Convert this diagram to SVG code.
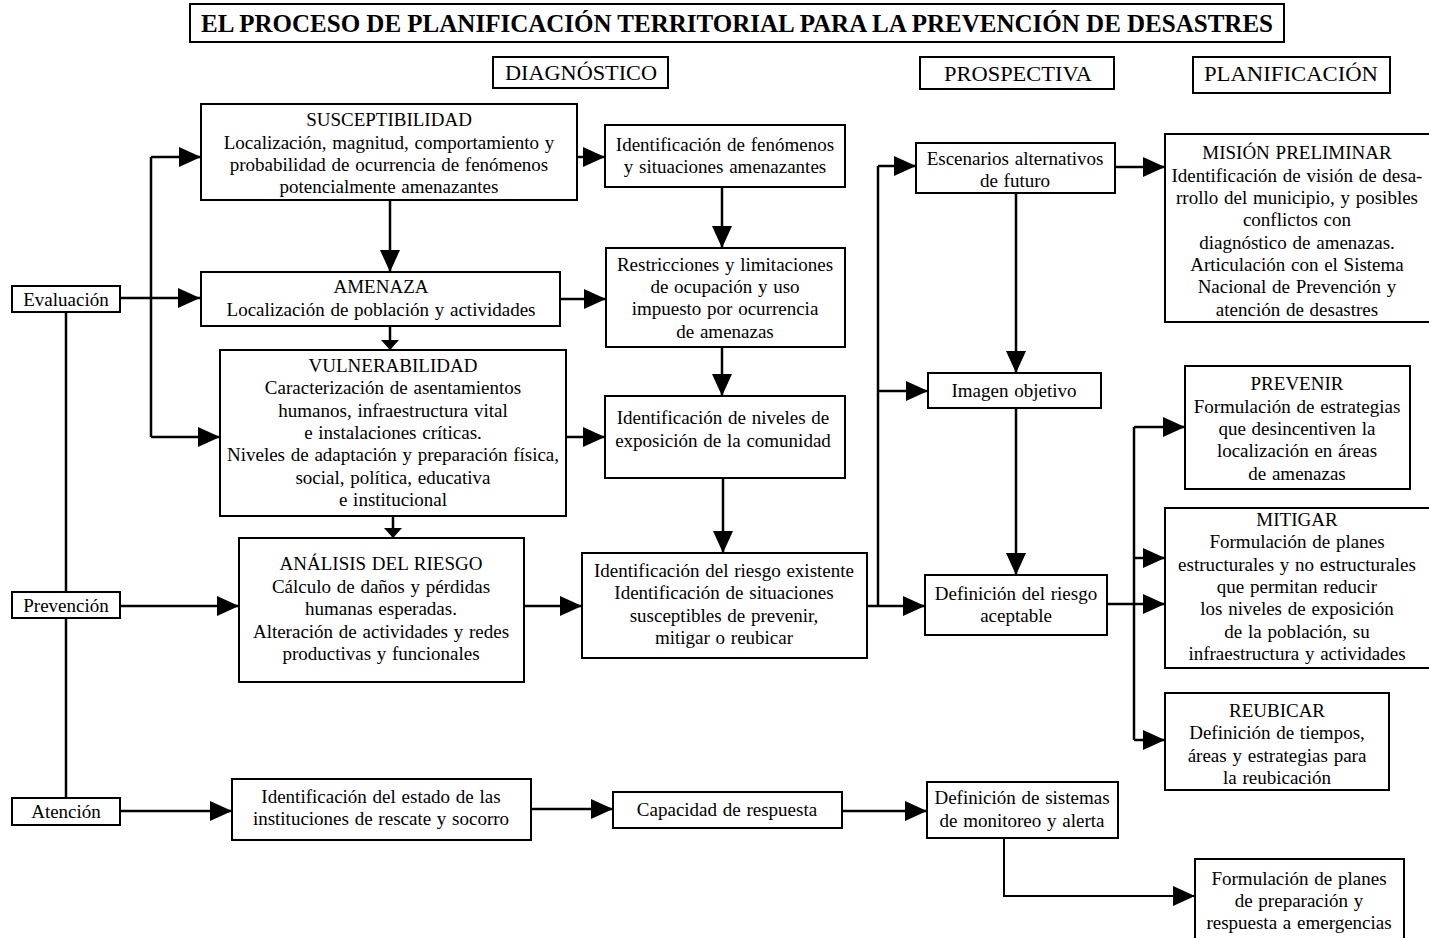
<svg xmlns="http://www.w3.org/2000/svg" width="1429" height="938" viewBox="0 0 1429 938">
<style>
.b{fill:#fff;stroke:#000;stroke-width:2}
.t{font-family:"Liberation Serif","Times New Roman",serif;font-size:19px;word-spacing:1px;text-anchor:middle;fill:#000}
.h{font-family:"Liberation Serif","Times New Roman",serif;font-size:21px;text-anchor:middle;fill:#000}
.c{fill:none;stroke:#000;stroke-width:2.5}
</style>
<defs>
<marker id="a" markerUnits="userSpaceOnUse" markerWidth="22" markerHeight="22" refX="22" refY="11" orient="auto" viewBox="0 0 22 22"><path d="M0,1 L22,11 L0,21 z" fill="#000"/></marker>
<marker id="s" markerUnits="userSpaceOnUse" markerWidth="10" markerHeight="20" refX="10" refY="10" orient="auto" viewBox="0 0 10 20"><path d="M0,1 L10,10 L0,19 z" fill="#000"/></marker>
</defs>
<rect width="1429" height="938" fill="#fff"/>

<g id="connectors">
<path class="c" d="M66,312 V798"/>
<path class="c" d="M120,298 H200" marker-end="url(#a)"/>
<path class="c" d="M151,157 V437"/>
<path class="c" d="M151,157 H201" marker-end="url(#a)"/>
<path class="c" d="M151,437 H220" marker-end="url(#a)"/>
<path class="c" d="M390,200 V272" marker-end="url(#a)"/>
<path class="c" d="M390,326 V350" marker-end="url(#s)"/>
<path class="c" d="M393,516 V538" marker-end="url(#s)"/>
<path class="c" d="M120,606 H239" marker-end="url(#a)"/>
<path class="c" d="M524,606 H582" marker-end="url(#a)"/>
<path class="c" d="M577,157 H605" marker-end="url(#a)"/>
<path class="c" d="M560,299 H606" marker-end="url(#a)"/>
<path class="c" d="M566,437 H605" marker-end="url(#a)"/>
<path class="c" d="M722,187 V248" marker-end="url(#a)"/>
<path class="c" d="M722,347 V396" marker-end="url(#a)"/>
<path class="c" d="M723,478 V553" marker-end="url(#a)"/>
<path class="c" d="M867,606 H925" marker-end="url(#a)"/>
<path class="c" d="M878,166 V606"/>
<path class="c" d="M878,166 H916" marker-end="url(#a)"/>
<path class="c" d="M878,391 H928" marker-end="url(#a)"/>
<path class="c" d="M1115,167 H1165" marker-end="url(#a)"/>
<path class="c" d="M1016,193 V373" marker-end="url(#a)"/>
<path class="c" d="M1016,408 V575" marker-end="url(#a)"/>
<path class="c" d="M1107,604 H1165" marker-end="url(#a)"/>
<path class="c" d="M1134,427 V740"/>
<path class="c" d="M1134,427 H1185" marker-end="url(#a)"/>
<path class="c" d="M1134,558 H1165" marker-end="url(#a)"/>
<path class="c" d="M1134,740 H1165" marker-end="url(#a)"/>
<path class="c" d="M120,811 H232" marker-end="url(#a)"/>
<path class="c" d="M531,809 H613" marker-end="url(#a)"/>
<path class="c" d="M842,811 H927" marker-end="url(#a)"/>
<path class="c" d="M1004,838 V896 H1195" marker-end="url(#a)" style="stroke-width:2"/>
</g>

<g id="title">
<rect class="b" x="190" y="4" width="1094" height="38"/>
<text x="737" y="32" textLength="1072" lengthAdjust="spacingAndGlyphs" style="font-family:'Liberation Serif','Times New Roman',serif;font-size:26px;font-weight:bold;text-anchor:middle">EL PROCESO DE PLANIFICACIÓN TERRITORIAL PARA LA PREVENCIÓN DE DESASTRES</text>
</g>
<g id="h-diag"><rect class="b" x="493" y="57" width="175" height="31"/><text class="h" x="581" y="80" textLength="152" lengthAdjust="spacingAndGlyphs">DIAGNÓSTICO</text></g>
<g id="h-prosp"><rect class="b" x="920" y="57" width="194" height="32"/><text class="h" x="1018" y="81" textLength="148" lengthAdjust="spacingAndGlyphs">PROSPECTIVA</text></g>
<g id="h-plan"><rect class="b" x="1193" y="57" width="197" height="36"/><text class="h" x="1291" y="81" textLength="174" lengthAdjust="spacingAndGlyphs">PLANIFICACIÓN</text></g>

<g id="evaluacion"><rect class="b" x="12" y="286" width="108" height="26"/><text class="t" x="66" y="306">Evaluación</text></g>
<g id="prevencion"><rect class="b" x="12" y="592" width="108" height="26"/><text class="t" x="66" y="612">Prevención</text></g>
<g id="atencion"><rect class="b" x="12" y="798" width="108" height="27"/><text class="t" x="66" y="818">Atención</text></g>

<g id="susceptibilidad"><rect class="b" x="201" y="104" width="376" height="96"/>
<text class="t" x="389" y="126">SUSCEPTIBILIDAD</text>
<text class="t" x="389" y="149">Localización, magnitud, comportamiento y</text>
<text class="t" x="389" y="171">probabilidad de ocurrencia de fenómenos</text>
<text class="t" x="389" y="193">potencialmente amenazantes</text></g>

<g id="amenaza"><rect class="b" x="201" y="272" width="359" height="54"/>
<text class="t" x="381" y="293">AMENAZA</text>
<text class="t" x="381" y="316">Localización de población y actividades</text></g>

<g id="vulnerabilidad"><rect class="b" x="220" y="350" width="346" height="166"/>
<text class="t" x="393" y="372">VULNERABILIDAD</text>
<text class="t" x="393" y="394">Caracterización de asentamientos</text>
<text class="t" x="393" y="417">humanos, infraestructura vital</text>
<text class="t" x="393" y="439">e instalaciones críticas.</text>
<text class="t" x="393" y="461">Niveles de adaptación y preparación física,</text>
<text class="t" x="393" y="484">social, política, educativa</text>
<text class="t" x="393" y="506">e institucional</text></g>

<g id="analisis"><rect class="b" x="239" y="538" width="285" height="144"/>
<text class="t" x="381" y="570">ANÁLISIS DEL RIESGO</text>
<text class="t" x="381" y="593">Cálculo de daños y pérdidas</text>
<text class="t" x="381" y="615">humanas esperadas.</text>
<text class="t" x="381" y="638">Alteración de actividades y redes</text>
<text class="t" x="381" y="660">productivas y funcionales</text></g>

<g id="fenomenos"><rect class="b" x="605" y="125" width="240" height="62"/>
<text class="t" x="725" y="151">Identificación de fenómenos</text>
<text class="t" x="725" y="173">y situaciones amenazantes</text></g>

<g id="restricciones"><rect class="b" x="606" y="248" width="239" height="99"/>
<text class="t" x="725" y="271">Restricciones y limitaciones</text>
<text class="t" x="725" y="293">de ocupación y uso</text>
<text class="t" x="725" y="315">impuesto por ocurrencia</text>
<text class="t" x="725" y="338">de amenazas</text></g>

<g id="niveles"><rect class="b" x="605" y="396" width="240" height="82"/>
<text class="t" x="723" y="424">Identificación de niveles de</text>
<text class="t" x="723" y="447">exposición de la comunidad</text></g>

<g id="riesgo-existente"><rect class="b" x="582" y="553" width="285" height="105"/>
<text class="t" x="724" y="577">Identificación del riesgo existente</text>
<text class="t" x="724" y="599">Identificación de situaciones</text>
<text class="t" x="724" y="622">susceptibles de prevenir,</text>
<text class="t" x="724" y="644">mitigar o reubicar</text></g>

<g id="escenarios"><rect class="b" x="916" y="143" width="199" height="50"/>
<text class="t" x="1015" y="165">Escenarios alternativos</text>
<text class="t" x="1015" y="187">de futuro</text></g>

<g id="imagen"><rect class="b" x="928" y="373" width="173" height="35"/>
<text class="t" x="1014" y="397">Imagen objetivo</text></g>

<g id="riesgo-aceptable"><rect class="b" x="925" y="575" width="182" height="60"/>
<text class="t" x="1016" y="600">Definición del riesgo</text>
<text class="t" x="1016" y="622">aceptable</text></g>

<g id="mision"><rect class="b" x="1165" y="134" width="270" height="188"/>
<text class="t" x="1297" y="159">MISIÓN PRELIMINAR</text>
<text class="t" x="1297" y="182">Identificación de visión de desa-</text>
<text class="t" x="1297" y="204">rrollo del municipio, y posibles</text>
<text class="t" x="1297" y="226">conflictos con</text>
<text class="t" x="1297" y="249">diagnóstico de amenazas.</text>
<text class="t" x="1297" y="271">Articulación con el Sistema</text>
<text class="t" x="1297" y="293">Nacional de Prevención y</text>
<text class="t" x="1297" y="316">atención de desastres</text></g>

<g id="prevenir"><rect class="b" x="1185" y="366" width="225" height="123"/>
<text class="t" x="1297" y="390">PREVENIR</text>
<text class="t" x="1297" y="413">Formulación de estrategias</text>
<text class="t" x="1297" y="435">que desincentiven la</text>
<text class="t" x="1297" y="457">localización en áreas</text>
<text class="t" x="1297" y="480">de amenazas</text></g>

<g id="mitigar"><rect class="b" x="1165" y="508" width="270" height="160"/>
<text class="t" x="1297" y="526">MITIGAR</text>
<text class="t" x="1297" y="548">Formulación de planes</text>
<text class="t" x="1297" y="571">estructurales y no estructurales</text>
<text class="t" x="1297" y="593">que permitan reducir</text>
<text class="t" x="1297" y="615">los niveles de exposición</text>
<text class="t" x="1297" y="638">de la población, su</text>
<text class="t" x="1297" y="660">infraestructura y actividades</text></g>

<g id="reubicar"><rect class="b" x="1165" y="693" width="224" height="97"/>
<text class="t" x="1277" y="717">REUBICAR</text>
<text class="t" x="1277" y="739">Definición de tiempos,</text>
<text class="t" x="1277" y="762">áreas y estrategias para</text>
<text class="t" x="1277" y="784">la reubicación</text></g>

<g id="instituciones"><rect class="b" x="232" y="779" width="299" height="61"/>
<text class="t" x="381" y="803">Identificación del estado de las</text>
<text class="t" x="381" y="825">instituciones de rescate y socorro</text></g>

<g id="capacidad"><rect class="b" x="613" y="792" width="229" height="36"/>
<text class="t" x="727" y="816">Capacidad de respuesta</text></g>

<g id="monitoreo"><rect class="b" x="927" y="782" width="191" height="56"/>
<text class="t" x="1022" y="804">Definición de sistemas</text>
<text class="t" x="1022" y="827">de monitoreo y alerta</text></g>

<g id="emergencias"><rect class="b" x="1195" y="859" width="209" height="90"/>
<text class="t" x="1299" y="885">Formulación de planes</text>
<text class="t" x="1299" y="907">de preparación y</text>
<text class="t" x="1299" y="929">respuesta a emergencias</text></g>
</svg>
